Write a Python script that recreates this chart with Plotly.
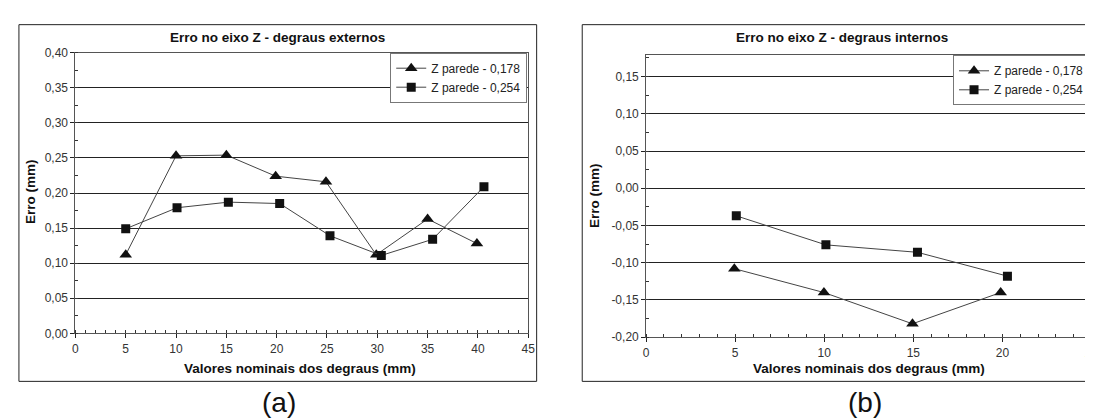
import plotly.graph_objects as go

# ---- data (a): degraus externos ----
a_x_178 = [5.0, 10.0, 15.0, 19.9, 24.9, 29.9, 35.0, 39.9]
a_y_178 = [0.112, 0.253, 0.254, 0.224, 0.216, 0.112, 0.163, 0.128]
a_x_254 = [5.0, 10.1, 15.2, 20.3, 25.3, 30.4, 35.5, 40.6]
a_y_254 = [0.149, 0.179, 0.187, 0.185, 0.139, 0.111, 0.134, 0.209]

# ---- data (b): degraus internos ----
b_x_178 = [4.95, 9.98, 14.95, 19.9]
b_y_178 = [-0.108, -0.140, -0.182, -0.140]
b_x_254 = [5.06, 10.09, 15.23, 20.28]
b_y_254 = [-0.037, -0.076, -0.086, -0.118]

series_names = ["Z parede - 0,178", "Z parede - 0,254"]

a_ytick_vals = [0.0, 0.05, 0.10, 0.15, 0.20, 0.25, 0.30, 0.35, 0.40]
a_ytick_text = ["0,00", "0,05", "0,10", "0,15", "0,20", "0,25", "0,30", "0,35", "0,40"]
b_ytick_vals = [-0.20, -0.15, -0.10, -0.05, 0.0, 0.05, 0.10, 0.15]
b_ytick_text = ["-0,20", "-0,15", "-0,10", "-0,05", "0,00", "0,05", "0,10", "0,15"]

titles = ["Erro no eixo Z - degraus externos", "Erro no eixo Z - degraus internos"]
xtitle = "Valores nominais dos degraus (mm)"
ytitle = "Erro (mm)"
captions = ["(a)", "(b)"]

W, H = 1093, 420
def px(x): return x / W
def py(y): return 1 - y / H

FONT = "Liberation Sans, Arial, sans-serif"
LINE = "#555555"

fig = go.Figure()

def add_series(x, y, name, symbol, size, xa, ya, leg):
    fig.add_trace(go.Scatter(
        x=x, y=y, name=name, mode="lines+markers",
        line=dict(color="#444444", width=1),
        marker=dict(symbol=symbol, size=size, color="#111111"),
        xaxis=xa, yaxis=ya, legend=leg))

add_series(a_x_178, a_y_178, series_names[0], "triangle-up", 11, "x", "y", "legend")
add_series(a_x_254, a_y_254, series_names[1], "square", 9, "x", "y", "legend")
add_series(b_x_178, b_y_178, series_names[0], "triangle-up", 11, "x2", "y2", "legend2")
add_series(b_x_254, b_y_254, series_names[1], "square", 9, "x2", "y2", "legend2")

def xaxis_cfg(domain, rng, dtick):
    return dict(domain=domain, range=rng, dtick=dtick, tick0=0,
                showgrid=False, zeroline=False, showline=True, mirror=True,
                linecolor=LINE, linewidth=1,
                ticks="outside", ticklen=4, tickcolor="#222", tickwidth=1,
                minor=dict(dtick=1, ticks="inside", ticklen=3, tickcolor="#333", showgrid=False),
                tickfont=dict(family=FONT, size=12, color="#333"),
                fixedrange=True)

def yaxis_cfg(domain, rng, vals, text, anchor):
    return dict(domain=domain, range=rng, anchor=anchor,
                tickmode="array", tickvals=vals, ticktext=text,
                showgrid=True, gridcolor="#222222", gridwidth=1,
                zeroline=False, showline=True, mirror=True,
                linecolor=LINE, linewidth=1,
                ticks="outside", ticklen=4, tickcolor="#222", tickwidth=1,
                minor=dict(dtick=0.025, ticks="inside", ticklen=3, tickcolor="#333", showgrid=False),
                tickfont=dict(family=FONT, size=12, color="#333"),
                fixedrange=True)

fig.update_layout(
    width=W, height=H,
    margin=dict(l=0, r=0, t=0, b=0),
    paper_bgcolor="white", plot_bgcolor="white",
    showlegend=True,
    separators=", ",
    xaxis=dict(**xaxis_cfg([px(65), px(522)], [0, 45], 5), anchor="y"),
    yaxis=yaxis_cfg([py(329.3), py(39)], [0, 0.40], a_ytick_vals, a_ytick_text, "x"),
    xaxis2=dict(**xaxis_cfg([px(641), px(1090.5)], [0, 25], 5), anchor="y2"),
    yaxis2=yaxis_cfg([py(333.3), py(41.7)], [-0.20, 0.1786], b_ytick_vals, b_ytick_text, "x2"),
    legend=dict(x=px(521), y=py(39), xanchor="right", yanchor="top",
                bgcolor="white", bordercolor="#777", borderwidth=1,
                font=dict(family=FONT, size=12, color="#222"), tracegroupgap=0),
    legend2=dict(x=px(1089), y=py(41.7), xanchor="right", yanchor="top",
                 bgcolor="white", bordercolor="#777", borderwidth=1,
                 font=dict(family=FONT, size=12, color="#222"), tracegroupgap=0),
)

# outer frames
fig.add_shape(type="rect", xref="paper", yref="paper",
              x0=px(8), x1=px(530.5), y0=py(379), y1=py(10),
              line=dict(color="#222", width=1), layer="below")
fig.add_shape(type="rect", xref="paper", yref="paper",
              x0=px(576.5), x1=px(1092.5), y0=py(379), y1=py(10),
              line=dict(color="#222", width=1), layer="below")

def ann(x, y, text, size, bold=False, angle=0):
    fig.add_annotation(x=x, y=y, xref="paper", yref="paper", text=text,
                       showarrow=False, xanchor="center", yanchor="middle",
                       textangle=angle,
                       font=dict(family=FONT, size=size, color="#111",
                                 weight="bold" if bold else "normal"))

ann(px(269), py(23.3), titles[0], 13.5, True)
ann(px(838.6), py(23.3), titles[1], 13.5, True)
ann(px(291.9), py(365.7), xtitle, 13.5, True)
ann(px(865.5), py(365.7), xtitle, 13.5, True)
ann(px(20.3), py(183), ytitle, 13.5, True, -90)
ann(px(589), py(186.7), ytitle, 13.5, True, -90)
ann(px(270.8), py(401), captions[0], 28)
ann(px(861.4), py(401), captions[1], 28)

fig.write_html("out.html")
